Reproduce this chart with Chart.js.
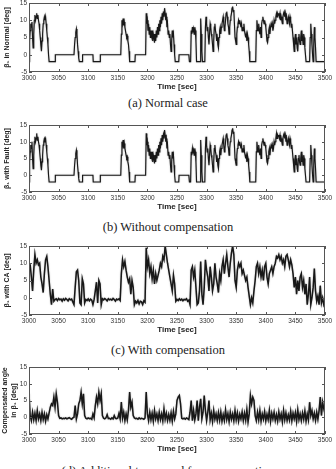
<!DOCTYPE html>
<html><head><meta charset="utf-8">
<script src="https://cdn.jsdelivr.net/npm/chart.js@4.4.1/dist/chart.umd.min.js"></script>
<style>
html,body{margin:0;padding:0;background:#fff;width:336px;height:469px;overflow:hidden;position:relative}
.panel{position:absolute;left:0;width:336px}
.cap{position:absolute;left:0;width:336px;text-align:center;font-family:"Liberation Serif","Times New Roman",serif;font-size:12.5px;line-height:14px;color:#222;white-space:nowrap}
</style></head><body>
<script>
// ---- tick labels ----
const xTickValues = [3000,3050,3100,3150,3200,3250,3300,3350,3400,3450,3500];
const xTickLabels = ['3000','3050','3100','3150','3200','3250','3300','3350','3400','3450','3500'];
const yTickValues = [-5,0,5,10,15];
const yTickLabels = ['-5','0','5','10','15'];
const xAxisTitle = 'Time [sec]';
const captions = ['(a) Normal case','(b) Without compensation','(c) With compensation','(d) Additional term used for compensation'];
const yTitles = [['\u03B2\u2081 in Normal [deg]'],['\u03B2\u2081 with Fault [deg]'],['\u03B2\u2081 with CA [deg]'],['Compensated angle','in \u03B2\u2081 [deg]']];

// ---- (a) beta1 in normal case: [time, deg] ----
const normalCase = [
[3000,-2],[3001,4],[3002,7],[3003,9],[3004,8],[3005,9.5],[3006,5],[3007,2],[3008,6],[3009,10],
[3010,11.5],[3011,10],[3012,11],[3013,12],[3014,10.5],[3015,11.5],[3016,10],[3017,9],[3018,7],[3019,5],
[3020,3],[3021,1],[3022,4],[3023,6],[3024,9],[3025,10],[3026,11],[3027,10],[3028,11],[3029,9],
[3030,7],[3031,5],[3032,3],[3033,0],[3034,-2],[3044,-2],[3044.5,0],[3076,0],
[3077,3],[3078,5],[3079,6.5],[3080,7.5],[3081,6],[3082,3],[3083,1],[3084,-1],[3085,-2],[3090,-2],[3090.5,0],
[3108,0],[3108.5,-2],[3120,-2],[3120.5,0],[3155,0],
[3156,6],[3157,10],[3158,9],[3159,10.5],[3160,8.5],[3161,9.5],[3162,8],[3163,7],[3164,6],[3165,5],[3166,5.5],[3167,4],[3168,3],[3169,1],[3170,-2],[3179,-2],[3179.5,0],[3197,0],
[3198,12],[3199,9],[3200,10],[3201,7],[3202,9],[3203,6],[3204,8],[3205,5],[3206,7],[3207,5.5],[3208,7],[3209,4],
[3210,6],[3211,5],[3212,3.5],[3213,6],[3214,4],[3215,7],[3216,5],[3217,8],[3218,6],[3219,9],
[3220,7],[3221,10],[3222,8],[3223,11],[3224,9],[3225,12],[3226,10],[3227,12.5],[3228,11],[3229,13.5],
[3230,12],[3231,10],[3232,11],[3233,8],[3234,9],[3235,6],[3236,7],[3237,5],[3238,6],[3239,3],
[3240,1],[3241,4],[3242,7],[3243,5],[3244,6],[3245,3],[3246,0],[3247,-2],[3253,-2],[3253.5,0],[3270,0],[3271,-2],[3273,-2],
[3274,7],[3275,6],[3276,8],[3277,6.5],[3278,7.5],[3279,6],[3280,8],[3281,7],[3282,4],[3283,-2],[3289,-2],
[3290,10.5],[3291,6],[3292,1],[3293,-2],[3297,-2],[3298,8],[3299,11],
[3300,9],[3301,7],[3302,8],[3303,5],[3304,3],[3305,6],[3306,9],[3307,8],[3308,6],[3309,5],
[3310,3],[3311,1],[3312,4],[3313,8],[3314,9],[3315,7],[3316,6],[3317,4],[3318,5],[3319,3],
[3320,2],[3321,5],[3322,7],[3323,8],[3324,6],[3325,8],[3326,9],[3327,10],[3328,11],[3329,9],
[3330,7],[3331,8],[3332,10],[3333,12],[3334,12.5],[3335,11],[3336,9],[3337,8],[3338,6],[3339,8],
[3340,10],[3341,11],[3342,12],[3343,13.5],[3344,14],[3345,12.5],[3346,13],[3347,9],[3348,5],[3349,4],
[3350,3],[3351,6],[3352,8],[3353,9],[3354,10],[3355,9],[3356,10],[3357,9],[3358,8],[3359,9],
[3360,7],[3361,8],[3362,7],[3363,9],[3364,7],[3365,6],[3366,5],[3367,6],[3368,4],[3369,6],
[3370,5],[3371,3],[3372,1],[3373,-2],[3383,-2],
[3384,7],[3385,10],[3386,8],[3387,7],[3388,9],[3389,7],[3390,6],[3391,8],[3392,5],[3393,9],
[3394,10],[3395,11],[3396,10],[3397,9],[3398,10],[3399,9],[3400,8],[3401,6],[3402,4],[3403,3.5],
[3404,5],[3405,7],[3406,8],[3407,6],[3408,8],[3409,9],[3410,8],[3411,9],[3412,7],[3413,8],
[3414,10],[3415,9],[3416,10],[3417,11],[3418,12],[3419,11],[3420,12],[3421,11.5],[3422,12],[3423,11],
[3424,12],[3425,10],[3426,11],[3427,10],[3428,9],[3429,11],[3430,12],[3431,12.5],[3432,11],[3433,12],
[3434,10],[3435,11],[3436,9],[3437,10],[3438,11],[3439,10],[3440,9],[3441,11],[3442,10],[3443,8],
[3444,9],[3445,7],[3446,5],[3447,3],[3448,1],[3449,4],[3450,6],[3451,3],[3452,5],[3453,2],
[3454,1],[3455,5],[3456,6],[3457,4],[3458,3],[3459,5],[3460,7],[3461,4],[3462,5],[3463,3],
[3464,6],[3465,5],[3466,2],[3467,0],[3468,-2],[3474,-2],
[3475,5],[3476,9],[3477,6],[3478,3],[3479,0],[3480,-2],[3481,3],[3482,8],[3483,5],[3484,2],[3485,-2],[3500,-2]
];

// ---- (b) beta1 with fault, no compensation: [time, deg] ----
const faultCase = [
[3000,-2],[3001,4],[3002,7],[3003,9],[3004,8],[3005,10],[3006,5],[3007,2],[3008,6],[3009,10],
[3010,11.5],[3011,10],[3012,11],[3013,12.5],[3014,10.5],[3015,11.5],[3016,10],[3017,9],[3018,7],[3019,5],
[3020,3],[3021,1.5],[3022,4],[3023,6],[3024,9],[3025,10],[3026,11],[3027,10.5],[3028,11],[3029,9],
[3030,7],[3031,5],[3032,3],[3033,0],[3034,-2],[3044,-2],[3044.5,0],[3076,0],
[3077,3],[3078,5],[3079,6.5],[3080,7.5],[3081,6],[3082,3],[3083,1],[3084,-1],[3085,-2],[3090,-2],[3090.5,0],
[3108,0],[3108.5,-2],[3120,-2],[3120.5,0],[3155,0],
[3156,6],[3157,10],[3158,9],[3159,10.5],[3160,8],[3161,9.5],[3162,8],[3163,7],[3164,6],[3165,5],[3166,5.5],[3167,4],[3168,3],[3169,1],[3170,-2],[3179,-2],[3179.5,0],[3197,0],
[3198,12.5],[3199,9],[3200,10],[3201,7],[3202,9],[3203,6],[3204,8],[3205,5],[3206,7],[3207,5.5],[3208,7],[3209,4],
[3210,6],[3211,5],[3212,3.5],[3213,6],[3214,4],[3215,7],[3216,5],[3217,8],[3218,6],[3219,9],
[3220,7],[3221,10],[3222,8],[3223,11],[3224,9],[3225,12],[3226,10],[3227,12],[3228,11],[3229,13.5],
[3230,12],[3231,10],[3232,11],[3233,8],[3234,9],[3235,6],[3236,7],[3237,5],[3238,6],[3239,3],
[3240,1],[3241,4],[3242,7],[3243,5],[3244,6],[3245,3],[3246,0],[3247,-2],[3253,-2],[3253.5,0],[3270,0],[3271,-2],[3273,-2],
[3274,7],[3275,6],[3276,8],[3277,6.5],[3278,7.5],[3279,6],[3280,8],[3281,7],[3282,4],[3283,-2],[3289,-2],
[3290,10.5],[3291,6],[3292,1],[3293,-2],[3297,-2],[3298,8],[3299,11.5],
[3300,9],[3301,7],[3302,8],[3303,5],[3304,3],[3305,6],[3306,9],[3307,8],[3308,6],[3309,5],
[3310,3],[3311,1],[3312,4],[3313,8],[3314,9],[3315,7],[3316,6],[3317,4],[3318,5],[3319,3],
[3320,2],[3321,5],[3322,7],[3323,8],[3324,6],[3325,8],[3326,9],[3327,10],[3328,11],[3329,9],
[3330,7],[3331,8],[3332,10],[3333,12],[3334,12.5],[3335,11],[3336,9],[3337,8],[3338,6],[3339,8],
[3340,10],[3341,11],[3342,12],[3343,13.5],[3344,14],[3345,12.5],[3346,13],[3347,9],[3348,5],[3349,4],
[3350,3],[3351,6],[3352,8],[3353,9],[3354,10],[3355,9],[3356,10],[3357,9],[3358,8],[3359,9],
[3360,7],[3361,8],[3362,7],[3363,9],[3364,7],[3365,6],[3366,5],[3367,6],[3368,4],[3369,6],
[3370,5],[3371,3],[3372,1],[3373,-2],[3383,-2],
[3384,7],[3385,10],[3386,8],[3387,7],[3388,9],[3389,7],[3390,6],[3391,8],[3392,5],[3393,9],
[3394,10],[3395,11],[3396,10],[3397,9],[3398,10],[3399,9],[3400,8],[3401,6],[3402,4],[3403,3.5],
[3404,5],[3405,7],[3406,8],[3407,6],[3408,8],[3409,9],[3410,8],[3411,9],[3412,7],[3413,8],
[3414,10],[3415,9],[3416,10],[3417,11],[3418,12.5],[3419,11],[3420,12],[3421,11.5],[3422,12],[3423,11],
[3424,12],[3425,10],[3426,11],[3427,10],[3428,9],[3429,11],[3430,12],[3431,12.5],[3432,11],[3433,12],
[3434,10],[3435,11],[3436,9],[3437,10],[3438,11],[3439,10],[3440,9],[3441,11],[3442,10],[3443,8],
[3444,9],[3445,7],[3446,5],[3447,3],[3448,1],[3449,4],[3450,6],[3451,3],[3452,5],[3453,2],
[3454,1],[3455,5],[3456,6],[3457,4],[3458,3],[3459,5],[3460,7],[3461,4],[3462,5],[3463,3],
[3464,6],[3465,5],[3466,2],[3467,0],[3468,-2],[3474,-2],
[3475,5],[3476,9],[3477,6],[3478,3],[3479,0],[3480,-2],[3481,3],[3482,8],[3483,5],[3484,2],[3485,-2],[3500,-2]
];

// ---- (c) and (d): sampled every 2 s from 3000 to 3500 ----
const sampleStart = 3000;
const sampleStep = 2;
const compensatedCase = [
10,9.5,6,2,8,12.5,10,11,9.5,10,
6,4,1.5,7,11,12,9,5,1,-2,
2.5,-1,-0.5,-0.3,-0.8,-0.2,-0.6,-0.4,-1,-0.3,
-0.7,-0.2,-0.5,-0.9,-0.3,-0.6,-0.4,-1.2,-2,3,
7.5,8,5,-1.5,-2,5.5,4,-1.5,-0.5,-0.8,
-0.3,-0.9,-0.4,-0.7,-2,-0.5,2,4.5,-1.5,5,
4,-2,-0.3,-0.6,-0.2,-0.5,-0.9,-0.3,-0.6,-0.4,
-0.7,-0.2,-0.5,-1,-0.4,-0.6,-0.3,-0.8,7,11,
9,10.5,8,6,4.5,5.5,1,5,3,-2,
-1,-1.5,-0.8,-1.8,-1,-1.2,-2,-0.9,-1.3,14.5,
9,11,7,9,5.5,8,4,7,5,6.5,
8,10,9,12,11,15,12.5,10,8,6,
4,2,6.5,4,-1,-0.5,-0.8,-0.3,-0.7,-0.4,
-0.9,-0.5,-0.6,-0.3,-1,-0.7,-2,8,9,6,
8,3,-2,-1.5,2,10.5,1,-2,3,11,
8,6,2,9,6,2,4,10,6,4,
1.5,7,5,9,11,7,10,12.5,9,6,
10,13,15,12.5,5,3,8,10,9,10,
7,8,6.5,5,6,3,0.5,-2,0,-1.5,
2,5,9,10,7,9,6,8,5,9,
10,6,4,7,8,9,7,9,10,12,
11.5,12.5,11,12,10,11,9,12,12.5,11,
9,11,9.5,7,3,6,1,5,2,6,
7,3,5,1,4,-2,1,6,-2,0,
3,8.5,2,-1,0.5,-2,3.5,-1.5,0,-2,
-1
];
const additionalTerm = [
7,0.5,-1,1.5,-0.8,1.2,-1,2,-0.5,1,
-1,1.5,-0.7,1,-1.2,0.8,-0.5,1.3,3,4,
3.5,6,3,7,4.5,0.5,-0.3,-0.2,-0.5,-0.3,
-0.4,-0.2,-0.5,-0.3,-0.1,-0.4,-0.6,-0.2,0,3.5,
-0.5,1,4,5,7.5,4,7,0.5,-0.3,-0.5,
-0.2,-0.4,-0.3,-0.6,1,-0.2,3.5,6,4,7.5,
5,7,0.5,-0.3,-0.5,-0.2,0.8,-0.4,-0.3,-0.6,
-0.2,-0.5,0.5,-0.3,-0.4,-0.2,1.2,-0.5,4.5,-0.3,
1.5,-1,1,-0.8,2,7.5,3,4.5,0.5,-0.2,
-0.4,-0.3,-0.6,-0.2,-0.5,-0.3,-0.4,-0.6,-0.2,7.5,
1,-1,1.5,-0.8,1.2,-1.2,2,-0.5,1,-1,
1.5,-0.7,1,-1.1,2.5,-0.6,1.2,-1,0.8,-0.9,
1.3,-1.2,1.8,-0.5,1,5,6,6.5,4,-0.3,
-0.5,-0.3,-0.6,-0.2,-0.4,-0.7,1.5,5,-1,2,
-0.8,1,5,-1,3,5.5,-0.5,1.5,6.5,2,
-1,1.5,5,-0.8,1.2,-1.3,2,-0.6,1,-1,
1.4,-0.9,1.6,-1.2,0.8,-1,2.2,-0.7,1.1,-1.3,
1.5,-0.6,1,-1.1,2,-0.8,1.3,-1.2,0.9,-0.5,
1.6,-1,1.2,-0.9,2.3,-1.4,1,6.5,4,6,
5,0.5,-1,1.5,-0.8,2,-1.2,1,-0.6,1.7,
-1.1,0.9,-0.7,2.1,-1.3,1.2,-0.5,1.5,-1,0.8,
-1.2,1.6,-0.6,1,-1.4,2,-0.8,1.3,-1,0.7,
-0.9,1.8,-1.1,1.2,-0.5,1.4,-1.3,2.2,-0.7,1,
-1,1.3,-0.6,1.9,-1.2,1,-0.8,4.5,0.5,2,
-0.5,1.2,-1,1.5,-0.6,2,6,0.5,4.5,2.5,
1
];

// ---- layout ----
const panels = [
  {plotTop:3,   plotBottom:72,  capY:103, lw:1.15},
  {plotTop:125, plotBottom:192, capY:227, lw:1.15},
  {plotTop:246, plotBottom:315, capY:350, lw:1.5},
  {plotTop:367, plotBottom:434, capY:471, lw:1.5}
];
const PAD_TOP = 8, X_AXIS_H = 22, Y_AXIS_W = 29, PAD_RIGHT = 11;

function pairsToPoints(pairs){ return pairs.map(p => ({x:p[0], y:p[1]})); }
function sampledToPoints(vals){ return vals.map((v,i) => ({x: sampleStart + i*sampleStep, y: v})); }

const seriesList = [
  pairsToPoints(normalCase),
  pairsToPoints(faultCase),
  sampledToPoints(compensatedCase),
  sampledToPoints(additionalTerm)
];

const softPlugin = {
  id:'soft',
  beforeDatasetsDraw(chart){
    const ctx = chart.ctx;
    ctx.save();
    ctx.shadowColor = 'rgba(0,0,0,0.35)';
    ctx.shadowBlur = 1.5;
  },
  afterDatasetsDraw(chart){ chart.ctx.restore(); }
};

const framePlugin = {
  id:'frame',
  afterDatasetsDraw(chart){
    const {ctx, chartArea:a, scales:{x,y}} = chart;
    ctx.save();
    ctx.strokeStyle = '#555'; ctx.lineWidth = 1;
    ctx.strokeRect(a.left+0.5, a.top+0.5, a.right-a.left-1, a.bottom-a.top-1);
    ctx.beginPath();
    x.ticks.forEach(t => {
      const px = Math.round(x.getPixelForValue(t.value)) + 0.5;
      ctx.moveTo(px, a.bottom); ctx.lineTo(px, a.bottom-3);
      ctx.moveTo(px, a.top); ctx.lineTo(px, a.top+3);
    });
    y.ticks.forEach(t => {
      const py = Math.round(y.getPixelForValue(t.value)) + 0.5;
      ctx.moveTo(a.left, py); ctx.lineTo(a.left+3, py);
      ctx.moveTo(a.right, py); ctx.lineTo(a.right-3, py);
    });
    ctx.stroke();
    ctx.restore();
  }
};

panels.forEach((p, idx) => {
  const h = PAD_TOP + (p.plotBottom - p.plotTop) + X_AXIS_H;
  const div = document.createElement('div');
  div.className = 'panel';
  div.style.top = (p.plotTop - PAD_TOP) + 'px';
  div.style.height = h + 'px';
  const cv = document.createElement('canvas');
  cv.width = 336; cv.height = h;
  cv.style.width = '336px'; cv.style.height = h + 'px';
  div.appendChild(cv);
  document.body.appendChild(div);

  const cap = document.createElement('div');
  cap.className = 'cap';
  cap.style.top = (p.capY - 7) + 'px';
  cap.textContent = captions[idx];
  document.body.appendChild(cap);

  const multi = yTitles[idx].length > 1;
  new Chart(cv, {
    type:'line',
    data:{datasets:[{data:seriesList[idx], borderColor:'#181818', borderWidth:p.lw, pointRadius:0, tension:0, fill:false}]},
    options:{
      responsive:false, animation:false, devicePixelRatio:1,
      layout:{padding:{top:PAD_TOP, right:PAD_RIGHT, bottom:0, left:0}},
      plugins:{legend:{display:false}, tooltip:{enabled:false}},
      scales:{
        x:{type:'linear', min:3000, max:3500,
           grid:{display:false, drawTicks:false}, border:{display:false},
           afterBuildTicks:s => { s.ticks = xTickValues.map(v => ({value:v})); },
           afterFit:s => { s.height = X_AXIS_H; s.paddingLeft = 0; s.paddingRight = 0; },
           ticks:{autoSkip:false, maxRotation:0, minRotation:0, padding:2, color:'#333',
                  font:{family:'"Liberation Sans", Arial, sans-serif', size:6.5},
                  callback:(v,i) => xTickLabels[i]},
           title:{display:true, text:xAxisTitle, color:'#222', padding:{top:0,bottom:2},
                  font:{family:'"Liberation Sans", Arial, sans-serif', size:8, weight:'bold'}}
        },
        y:{type:'linear', min:-5, max:15,
           grid:{display:false, drawTicks:false}, border:{display:false},
           afterBuildTicks:s => { s.ticks = yTickValues.map(v => ({value:v})); },
           afterFit:s => { s.width = Y_AXIS_W; s.paddingTop = 0; s.paddingBottom = 0; },
           ticks:{padding:2, color:'#333',
                  font:{family:'"Liberation Sans", Arial, sans-serif', size:6.5},
                  callback:(v,i) => yTickLabels[i]},
           title:{display:true, text: multi ? yTitles[idx] : yTitles[idx][0], color:'#222',
                  padding:{top: multi ? 1 : 3, bottom:0},
                  font:{family:'"Liberation Sans", Arial, sans-serif', size:7, weight:'bold'}}
        }
      }
    },
    plugins:[softPlugin, framePlugin]
  });
});
</script>
</body></html>
